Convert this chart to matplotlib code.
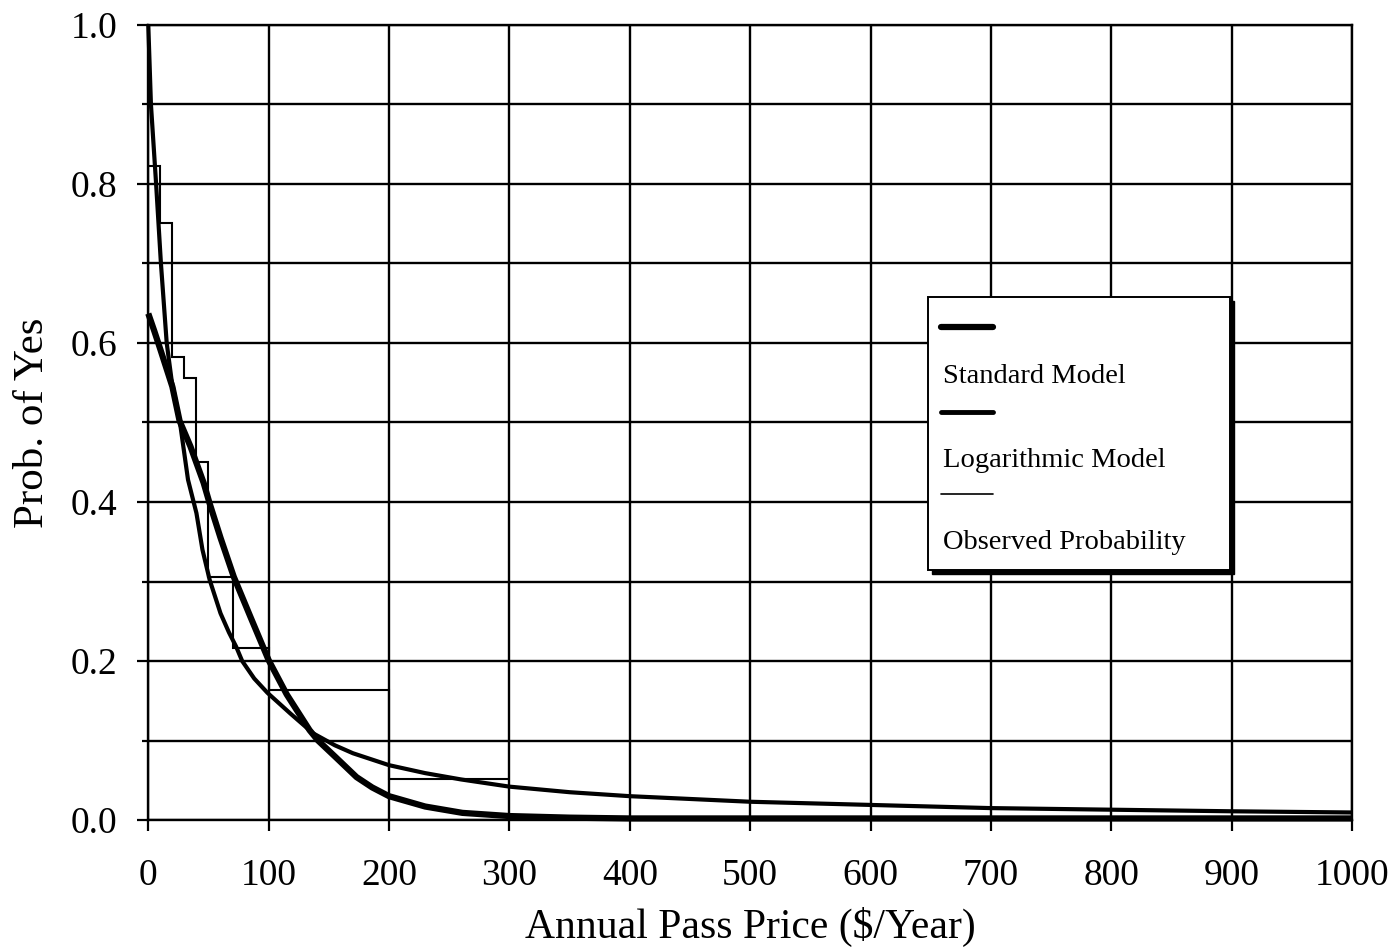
import matplotlib
matplotlib.use("Agg")
import matplotlib.pyplot as plt
from matplotlib.patches import Rectangle
from matplotlib.ticker import MultipleLocator, FormatStrFormatter

# ---- data ----
# Observed probability (step function): bid-interval edges and share of "yes"
obs_edges = [0, 10, 20, 30, 40, 50, 70, 100, 200, 300]
obs_values = [0.822, 0.751, 0.583, 0.556, 0.450, 0.306, 0.217, 0.163, 0.051]

# Standard model curve
std_x = [0, 5, 10, 20, 26, 35, 46, 51, 60, 71, 85, 100, 115, 134, 141, 155, 173, 186, 200, 230, 261, 300, 350, 400, 500, 700, 1000]
std_y = [0.637, 0.615, 0.592, 0.545, 0.502, 0.470, 0.424, 0.398, 0.355, 0.306, 0.255, 0.201, 0.158, 0.113, 0.100, 0.080, 0.054, 0.041, 0.030, 0.017, 0.009, 0.005, 0.003, 0.002, 0.002, 0.002, 0.002]

# Logarithmic model curve
log_x = [0, 2.2, 6.5, 10.5, 15.3, 19.4, 26.3, 33, 40, 45, 51, 60, 67, 73, 78, 88, 99, 118, 137, 155, 170, 200, 230, 260, 300, 350, 400, 500, 600, 700, 800, 900, 1000]
log_y = [1.0, 0.90, 0.80, 0.70, 0.60, 0.553, 0.50, 0.428, 0.386, 0.340, 0.302, 0.260, 0.236, 0.218, 0.200, 0.178, 0.160, 0.134, 0.109, 0.094, 0.084, 0.069, 0.059, 0.051, 0.042, 0.035, 0.030, 0.023, 0.019, 0.015, 0.013, 0.011, 0.0095]

legend_labels = ["Standard Model", "Logarithmic Model", "Observed Probability"]
x_label = "Annual Pass Price ($/Year)"
y_label = "Prob. of Yes"

# ---- figure ----
plt.rcParams['font.family'] = ['Liberation Serif', 'DejaVu Serif']

fig = plt.figure(figsize=(13.95, 9.49), dpi=100)
ax = fig.add_axes([0.1063, 0.1359, 0.8629, 0.8378])

ax.set_xlim(0, 1000)
ax.set_ylim(0, 1.0)

ax.xaxis.set_major_locator(MultipleLocator(100))
ax.yaxis.set_major_locator(MultipleLocator(0.2))
ax.yaxis.set_minor_locator(MultipleLocator(0.1))
ax.yaxis.set_major_formatter(FormatStrFormatter('%.1f'))

ax.grid(True, which='major', axis='x', color='black', linewidth=1.7)
ax.grid(True, which='both', axis='y', color='black', linewidth=1.7)
ax.set_axisbelow(True)

for s in ax.spines.values():
    s.set_linewidth(1.7)
    s.set_color('black')

ax.tick_params(axis='x', which='major', length=8, width=1.6, direction='out',
               labelsize=27, pad=20)
ax.tick_params(axis='y', which='major', length=8, width=1.6, direction='out',
               labelsize=27, pad=14)
ax.tick_params(axis='y', which='minor', length=4, width=1.6, direction='out')

ax.stairs(obs_values, obs_edges, baseline=None, color='black', linewidth=1.5, zorder=3)
ax.plot(log_x, log_y, color='black', linewidth=3.0, zorder=4, clip_on=False,
        solid_capstyle='butt', solid_joinstyle='round')
ax.plot(std_x, std_y, color='black', linewidth=4.5, zorder=5, clip_on=False,
        solid_capstyle='butt', solid_joinstyle='round')

ax.set_xlabel(x_label, fontsize=30, labelpad=10)
ax.set_ylabel(y_label, fontsize=31, labelpad=14)

# ---- legend (handle above label, boxed with shadow) ----
bx0, bx1, by0, by1 = 0.6478, 0.8987, 0.3145, 0.6579
sdx, sdy = 4 / 1203.7, 4 / 795
ax.add_patch(Rectangle((bx0 + sdx, by0 - sdy), bx1 - bx0, by1 - by0, transform=ax.transAxes,
                       facecolor='black', edgecolor='black', zorder=8, clip_on=False))
ax.add_patch(Rectangle((bx0, by0), bx1 - bx0, by1 - by0, transform=ax.transAxes,
                       facecolor='white', edgecolor='black', linewidth=1.4, zorder=9, clip_on=False))

lx0, lx1 = 0.6585, 0.7017
line_y = [0.6201, 0.5136, 0.4101]
line_w = [4.5, 3.5, 1.2]
text_y = [0.5493, 0.4444, 0.3405]
for ly, lw, ty, lab in zip(line_y, line_w, text_y, legend_labels):
    ax.plot([lx0, lx1], [ly, ly], transform=ax.transAxes, color='black', linewidth=lw,
            solid_capstyle='round', zorder=10, clip_on=False)
    ax.text(0.660, ty, lab, transform=ax.transAxes, fontsize=20.5, va='baseline',
            ha='left', zorder=10)

fig.savefig("out.png", dpi=100)
